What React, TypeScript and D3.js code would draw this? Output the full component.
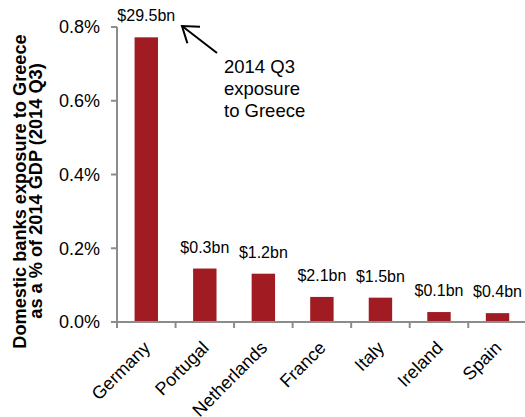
import React from "react";
import * as d3 from "d3";

const categories = ["Germany", "Portugal", "Netherlands", "France", "Italy", "Ireland", "Spain"];
const values = [0.772, 0.145, 0.131, 0.068, 0.066, 0.027, 0.024];
const barLabels = ["$29.5bn", "$0.3bn", "$1.2bn", "$2.1bn", "$1.5bn", "$0.1bn", "$0.4bn"];
const yTicks = [0, 0.2, 0.4, 0.6, 0.8];
const titleLines = ["Domestic banks exposure to Greece", "as a % of 2014 GDP (2014 Q3)"];
const annotationLines = ["2014 Q3", "exposure", "to Greece"];

const W = 525;
const H = 417;
const FONT = "'Liberation Sans', Arial, Helvetica, sans-serif";
const BAR = "#a01c22";
const AXIS = "#8c8c8c";

export default function App() {
  const x = d3.scaleBand<string>().domain(categories).range([117, 526.8]).paddingInner(0).paddingOuter(0);
  const y = d3.scaleLinear().domain([0, 0.8]).range([322, 27]);
  const bw = x.bandwidth() * 0.4;
  const fmt = (v: number) => d3.format(".1f")(v) + "%";
  const y0 = y(0);

  const head = { x: 182, y: 26 };
  const tail = { x: 217, y: 53 };
  const ang = Math.atan2(tail.y - head.y, tail.x - head.x);
  const armLen = 18;
  const spread = (35 * Math.PI) / 180;
  const arm1 = { x: head.x + armLen * Math.cos(ang - spread), y: head.y + armLen * Math.sin(ang - spread) };
  const arm2 = { x: head.x + armLen * Math.cos(ang + spread), y: head.y + armLen * Math.sin(ang + spread) };

  const titleX = [25.5, 42];
  const titleY = [191.5, 191];

  return (
    <svg width={W} height={H} style={{ position: "absolute", left: 0, top: 0, background: "#fff" }} fontFamily={FONT}>
      {/* y-axis title */}
      {titleLines.map((t, i) => (
        <text
          key={t}
          transform={`translate(${titleX[i]},${titleY[i]}) rotate(-90)`}
          textAnchor="middle"
          fontSize={18.2}
          fontWeight="bold"
          fill="#000"
        >
          {t}
        </text>
      ))}

      {/* bars */}
      {categories.map((c, i) => {
        const cx = (x(c) as number) + x.bandwidth() / 2;
        return (
          <g key={c}>
            <rect x={cx - bw / 2} y={y(values[i])} width={bw} height={y0 - y(values[i])} fill={BAR} />
            <text x={cx} y={y(values[i]) - 16} textAnchor="middle" fontSize={16} fill="#000">
              {barLabels[i]}
            </text>
          </g>
        );
      })}

      {/* y axis */}
      <line x1={117} x2={117} y1={y(0.8)} y2={y0} stroke={AXIS} strokeWidth={2} />
      {yTicks.map((t) => (
        <g key={t}>
          <line x1={111} x2={117} y1={y(t)} y2={y(t)} stroke={AXIS} strokeWidth={2} />
          <text x={100} y={y(t)} dy="0.36em" textAnchor="end" fontSize={18} fill="#000">
            {fmt(t)}
          </text>
        </g>
      ))}

      {/* x axis */}
      <line x1={117} x2={526.8} y1={y0} y2={y0} stroke={AXIS} strokeWidth={2} />
      {categories.map((c) => (
        <line key={c} x1={x(c) as number} x2={x(c) as number} y1={y0} y2={y0 + 6} stroke={AXIS} strokeWidth={2} />
      ))}
      {categories.map((c) => {
        const cx = (x(c) as number) + x.bandwidth() / 2;
        return (
          <text
            key={c}
            transform={`translate(${cx + 5},349) rotate(-45)`}
            textAnchor="end"
            fontSize={18}
            fill="#000"
          >
            {c}
          </text>
        );
      })}

      {/* annotation */}
      <line x1={tail.x} y1={tail.y} x2={head.x} y2={head.y} stroke="#000" strokeWidth={2} />
      <polyline
        points={`${arm1.x},${arm1.y} ${head.x},${head.y} ${arm2.x},${arm2.y}`}
        fill="none"
        stroke="#000"
        strokeWidth={2}
      />
      {annotationLines.map((t, i) => (
        <text key={t} x={224} y={73.3 + i * 22} fontSize={18.5} fill="#000">
          {t}
        </text>
      ))}
    </svg>
  );
}
